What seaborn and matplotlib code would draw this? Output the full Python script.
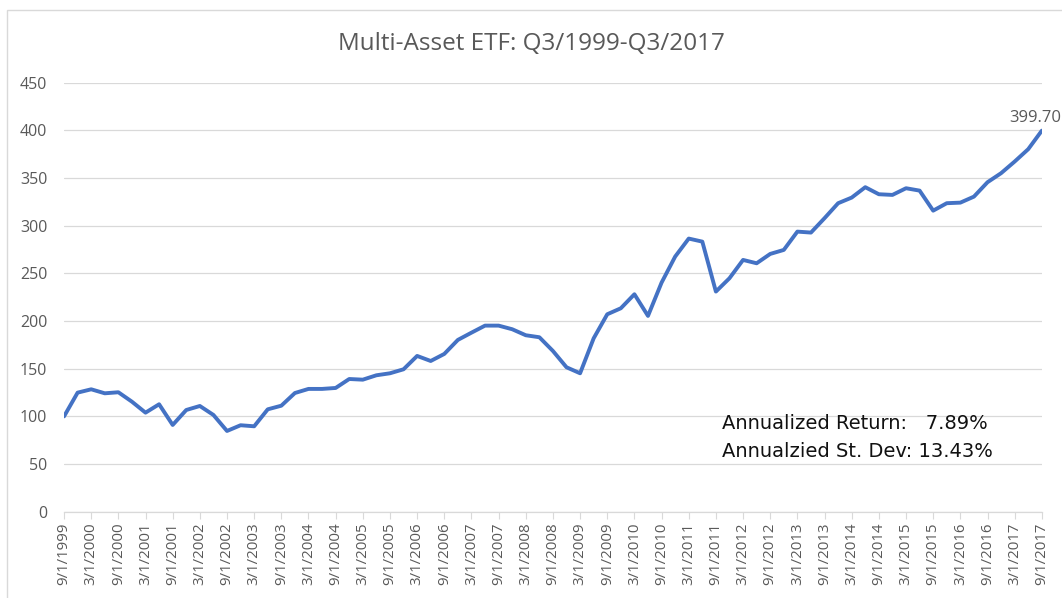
# -*- coding: utf-8 -*-
"""
Multi-Asset ETF growth of 100, quarterly, Q3/1999 - Q3/2017
"""

import matplotlib
matplotlib.use('Agg')
import matplotlib.pyplot as plt
from matplotlib.patches import Rectangle
import pandas as pd
import seaborn as sns

# -------------------------------------------------------------------------
# Data
# -------------------------------------------------------------------------
quarter_dates = pd.date_range('1999-09-01', '2017-09-01', freq='3MS')
etf_values = [
    100.0, 124.9, 128.4, 124.2, 125.3, 115.4, 103.9, 112.7, 91.0, 106.7,
    110.9, 101.5, 84.7, 90.7, 89.6, 107.4, 111.2, 124.5, 128.8, 128.8,
    129.8, 139.2, 138.5, 143.1, 145.2, 149.4, 163.4, 158.1, 165.5, 180.2,
    187.8, 195.2, 195.2, 191.4, 185.1, 183.0, 168.6, 151.5, 145.2, 181.9,
    207.1, 213.4, 228.1, 205.4, 240.3, 267.6, 286.5, 283.3, 230.9, 244.9,
    264.1, 260.6, 270.4, 274.6, 293.8, 292.8, 307.9, 323.6, 329.5, 340.4,
    333.0, 332.3, 339.3, 336.8, 315.8, 323.6, 324.2, 330.5, 345.6, 355.1,
    367.3, 380.3, 399.7,
]
y_ticks = [0, 50, 100, 150, 200, 250, 300, 350, 400, 450]
last_label = '399.70'
stats_lines = ['Annualized Return:   7.89%', 'Annualzied St. Dev: 13.43%']
chart_title = 'Multi-Asset ETF: Q3/1999-Q3/2017'

date_labels = [f"{d.month}/{d.day}/{d.year}" for d in quarter_dates]
df = pd.DataFrame({'idx': range(len(etf_values)), 'value': etf_values})

LINE_COLOR = '#4472C4'
TEXT_GRAY = '#595959'
GRID_GRAY = '#D9D9D9'

# -------------------------------------------------------------------------
# Figure
# -------------------------------------------------------------------------
sns.set_theme(style='white')
plt.rcParams['font.family'] = ['Open Sans', 'DejaVu Sans']

fig = plt.figure(figsize=(10.62, 5.98), dpi=100)
ax = fig.add_axes([0.0603, 0.1443, 0.9207, 0.7174])

sns.lineplot(data=df, x='idx', y='value', ax=ax, color=LINE_COLOR, linewidth=2.8)

ax.set_xlim(0, len(etf_values) - 1)
ax.set_ylim(0, 450)
ax.set_yticks(y_ticks)
ax.set_yticklabels([str(v) for v in y_ticks], color=TEXT_GRAY, fontsize=11.5)
ax.yaxis.grid(True, color=GRID_GRAY, linewidth=0.9)
ax.xaxis.grid(False)

tick_pos = list(range(0, len(etf_values), 2))
ax.set_xticks(tick_pos)
ax.set_xticklabels([date_labels[i] for i in tick_pos], rotation=90,
                   color=TEXT_GRAY, fontsize=10.8)
ax.tick_params(axis='x', length=5, width=0.8, color=GRID_GRAY, bottom=True, pad=3)
ax.tick_params(axis='y', length=0, pad=12)

for side in ['top', 'right', 'left']:
    ax.spines[side].set_visible(False)
ax.spines['bottom'].set_color(GRID_GRAY)
ax.spines['bottom'].set_linewidth(0.9)
ax.set_xlabel('')
ax.set_ylabel('')

# Final value label
ax.annotate(last_label, xy=(len(etf_values) - 1, etf_values[-1]),
            xytext=(-5, 3), textcoords='offset points', ha='center', va='bottom',
            color=TEXT_GRAY, fontsize=12)

# Stats text block
stats_font = ['DejaVu Sans']
ax.text(0.673, 0.205, stats_lines[0], transform=ax.transAxes, color='#111111',
        fontsize=14, ha='left', va='center', family=stats_font)
ax.text(0.673, 0.140, stats_lines[1], transform=ax.transAxes, color='#111111',
        fontsize=14, ha='left', va='center', family=stats_font)

fig.text(0.5, 0.926, chart_title, ha='center', va='center', color=TEXT_GRAY, fontsize=17.5)

# Chart-area border (cropped on the right and bottom)
fig.patches.append(Rectangle((7 / 1062, -0.05), 1.2, 1 - 10 / 598 + 0.05,
                             transform=fig.transFigure, fill=False,
                             edgecolor=GRID_GRAY, linewidth=1.0))

fig.savefig('out.png', dpi=100, facecolor='white')
plt.close(fig)
